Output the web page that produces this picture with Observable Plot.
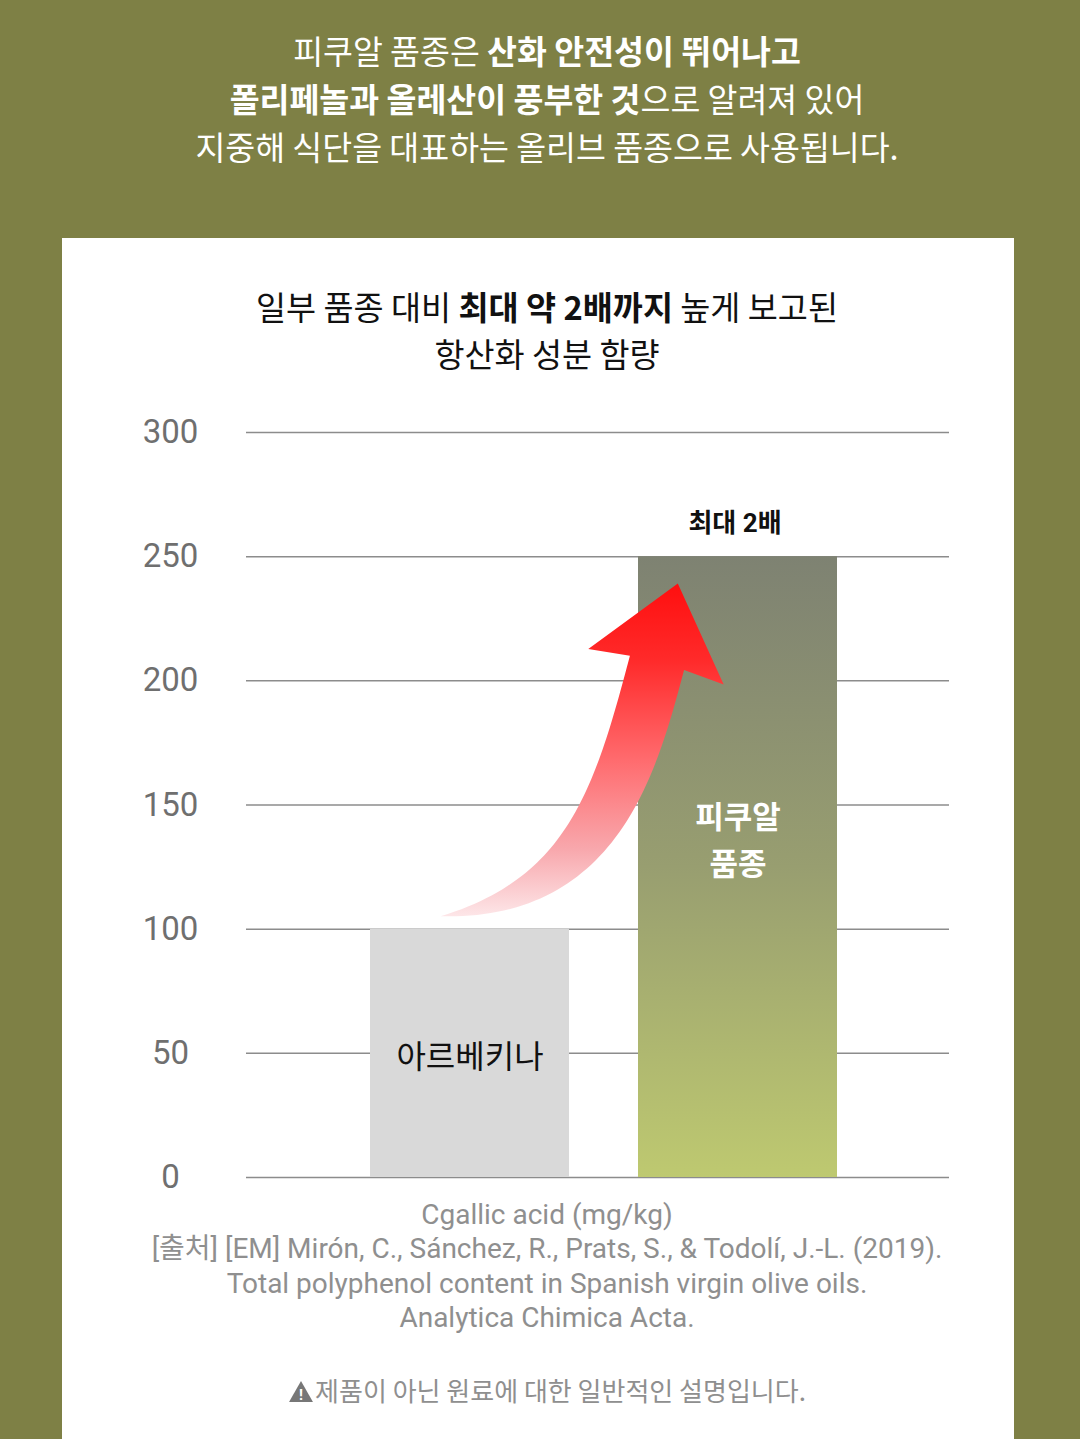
<!DOCTYPE html>
<html><head><meta charset="utf-8">
<script src="https://cdn.jsdelivr.net/npm/d3@7"></script>
<script src="https://cdn.jsdelivr.net/npm/@observablehq/plot@0.6"></script>
<style>
html,body{margin:0;padding:0;}
body{width:1080px;height:1439px;background:#7e8045;position:relative;overflow:hidden;font-family:Roboto,"Noto Sans CJK KR",sans-serif;}
.header{position:absolute;left:7px;top:26px;width:1080px;text-align:center;color:#fff;font-size:32.5px;line-height:48px;font-family:"Noto Sans CJK KR",sans-serif;}
.header b,.title b{font-weight:700}
.panel{position:absolute;left:62px;top:238px;width:952px;height:1220px;background:#fff;}
.title{position:absolute;left:9px;top:44px;width:952px;text-align:center;font-size:32.7px;line-height:47px;color:#111;font-family:"Noto Sans CJK KR",sans-serif;}
#chart{position:absolute;left:0;top:162px;}
.caption{position:absolute;left:9px;top:960px;width:952px;text-align:center;color:#8f8f8f;font-size:28px;line-height:34.4px;}
.note{position:absolute;left:9px;top:1135px;width:952px;text-align:center;color:#8f8f8f;font-size:26px;line-height:34px;font-family:"Noto Sans CJK KR",sans-serif;}
.note svg{vertical-align:-2px;margin-right:1px;}
</style></head>
<body>
<div class="header">
<div>피쿠알 품종은 <b>산화 안전성이 뛰어나고</b></div>
<div><b>폴리페놀과 올레산이 풍부한 것</b>으로 알려져 있어</div>
<div>지중해 식단을 대표하는 올리브 품종으로 사용됩니다.</div>
</div>
<div class="panel">
<div class="title">
<div>일부 품종 대비 <b>최대 약 2배까지</b> 높게 보고된</div>
<div>항산화 성분 함량</div>
</div>
<div id="chart"></div>
<div class="caption">
<div>Cgallic acid (mg/kg)</div>
<div>[출처] [EM] Mirón, C., Sánchez, R., Prats, S., &amp; Todolí, J.-L. (2019).</div>
<div>Total polyphenol content in Spanish virgin olive oils.</div>
<div>Analytica Chimica Acta.</div>
</div>
<div class="note"><svg width="26" height="23" viewBox="0 0 25 22"><path d="M12.5 1 L24 21 L1 21 Z" fill="#777"/><text x="12.5" y="19" text-anchor="middle" font-size="14" font-weight="bold" fill="#fff" font-family="Roboto">!</text></svg>제품이 아닌 원료에 대한 일반적인 설명입니다.</div>
</div>
<script>
const categories = ["아르베키나", "피쿠알 품종"];
const values = [100, 250];
const barLabels = ["아르베키나", "피쿠알\n품종"];
const yTicks = [0, 50, 100, 150, 200, 250, 300];
const peakLabel = "최대 2배";
const arrowFrom = {variety: "아르베키나", value: 105, offset: 0.355};
const arrowTo = {variety: "피쿠알 품종", value: 239, offset: 0.2};

const data = categories.map((c, i) => ({variety: c, value: values[i], label: barLabels[i]}));

function defsMark() {
  const defs = d3.create("svg:defs");
  const g1 = defs.append("linearGradient").attr("id", "picualGrad")
    .attr("x1", 0).attr("y1", 0).attr("x2", 0).attr("y2", 1);
  [[0, "#7e8272"], [0.5, "#989e70"], [1, "#bec970"]].forEach(([o, c]) =>
    g1.append("stop").attr("offset", o).attr("stop-color", c));
  const g2 = defs.append("linearGradient").attr("id", "arrowGrad")
    .attr("x1", 0).attr("y1", 0).attr("x2", 0).attr("y2", 1);
  [[0, "#ff0f0f"], [0.23, "#ff2a2a"], [0.53, "#ff6b6e"], [0.8, "#f8a8ad"], [1, "#fde6e8"]].forEach(([o, c]) =>
    g2.append("stop").attr("offset", o).attr("stop-color", c));
  return defs.node();
}

function arrowMark(index, scales) {
  const {x, y} = scales;
  const bw = x.bandwidth ? x.bandwidth() : 0;
  const T = [x(arrowFrom.variety) + arrowFrom.offset * bw, y(arrowFrom.value)];
  const P = [x(arrowTo.variety) + arrowTo.offset * bw, y(arrowTo.value)];
  const ang = 14.7 * Math.PI / 180;
  const dir = [Math.sin(ang), -Math.cos(ang)];
  const H = 82, headHalf = 70, shaftHalf = 28;
  const B = [P[0] - dir[0] * H, P[1] - dir[1] * H];
  const W = B[0] - T[0], V = T[1] - B[1];
  const C1 = [T[0] + 0.69 * W, T[1] - 0.08 * V];
  const C2 = [B[0] - dir[0] * 130, B[1] - dir[1] * 130];
  const bez = t => {
    const u = 1 - t;
    return [
      u*u*u*T[0] + 3*u*u*t*C1[0] + 3*u*t*t*C2[0] + t*t*t*B[0],
      u*u*u*T[1] + 3*u*u*t*C1[1] + 3*u*t*t*C2[1] + t*t*t*B[1]
    ];
  };
  const tan = t => {
    const u = 1 - t;
    const dx = 3*u*u*(C1[0]-T[0]) + 6*u*t*(C2[0]-C1[0]) + 3*t*t*(B[0]-C2[0]);
    const dy = 3*u*u*(C1[1]-T[1]) + 6*u*t*(C2[1]-C1[1]) + 3*t*t*(B[1]-C2[1]);
    const l = Math.hypot(dx, dy) || 1;
    return [dx / l, dy / l];
  };
  const w = t => shaftHalf * (1 - Math.pow(1 - t, 2.6));
  const N = 60, left = [], right = [];
  for (let i = 0; i <= N; i++) {
    const t = i / N, p = bez(t), d = tan(t), n = [d[1], -d[0]], ww = w(t);
    left.push([p[0] + n[0] * ww, p[1] + n[1] * ww]);
    right.push([p[0] - n[0] * ww, p[1] - n[1] * ww]);
  }
  const n = [dir[1], -dir[0]];
  const pts = [
    ...left,
    [B[0] + n[0] * headHalf - dir[0] * 4, B[1] + n[1] * headHalf - dir[1] * 4],
    P,
    [B[0] - n[0] * headHalf - dir[0] * 4, B[1] - n[1] * headHalf - dir[1] * 4],
    ...right.reverse()
  ];
  const g = d3.create("svg:g");
  g.append("path").attr("d", "M" + pts.map(p => p.join(",")).join("L") + "Z")
    .attr("fill", "url(#arrowGrad)");
  return g.node();
}

const isFirst = d => d.variety === categories[0];
const isSecond = d => d.variety === categories[1];

const chart = Plot.plot({
  width: 952,
  height: 787,
  marginTop: 32,
  marginBottom: 10,
  marginLeft: 184,
  marginRight: 65,
  style: {fontFamily: 'Roboto, "Noto Sans CJK KR", sans-serif', background: "transparent", overflow: "visible", color: "#6f6f6f"},
  x: {domain: categories, range: [307, 776], paddingInner: 0.2565, paddingOuter: 0, axis: null},
  y: {domain: [0, 300], axis: null},
  marks: [
    defsMark,
    Plot.ruleY(yTicks, {stroke: "#8c8c8c", strokeWidth: 1.5}),
    Plot.barY(data, {filter: isFirst, x: "variety", y: "value", fill: "#d9d9d9"}),
    Plot.barY(data, {filter: isSecond, x: "variety", y: "value", fill: "url(#picualGrad)"}),
    arrowMark,
    Plot.text(data, {filter: isFirst, x: "variety", y: d => d.value / 2, text: "label", fontSize: 32, fill: "#111", dy: 4}),
    Plot.text(data, {filter: isSecond, x: "variety", y: d => d.value / 2, text: "label", fontSize: 31, fontWeight: "bold", fill: "#fff", lineHeight: 1.52, dy: -31}),
    Plot.text(data, {filter: isSecond, x: "variety", y: "value", text: () => peakLabel, fontSize: 26, fontWeight: "bold", fill: "#111", dy: -33, dx: -3}),
    Plot.axisY({ticks: yTicks, tickSize: 0, tickPadding: 76, textAnchor: "middle", fontSize: 33, fill: "#6f6f6f", label: null})
  ]
});
document.getElementById("chart").appendChild(chart);
</script>
</body></html>
